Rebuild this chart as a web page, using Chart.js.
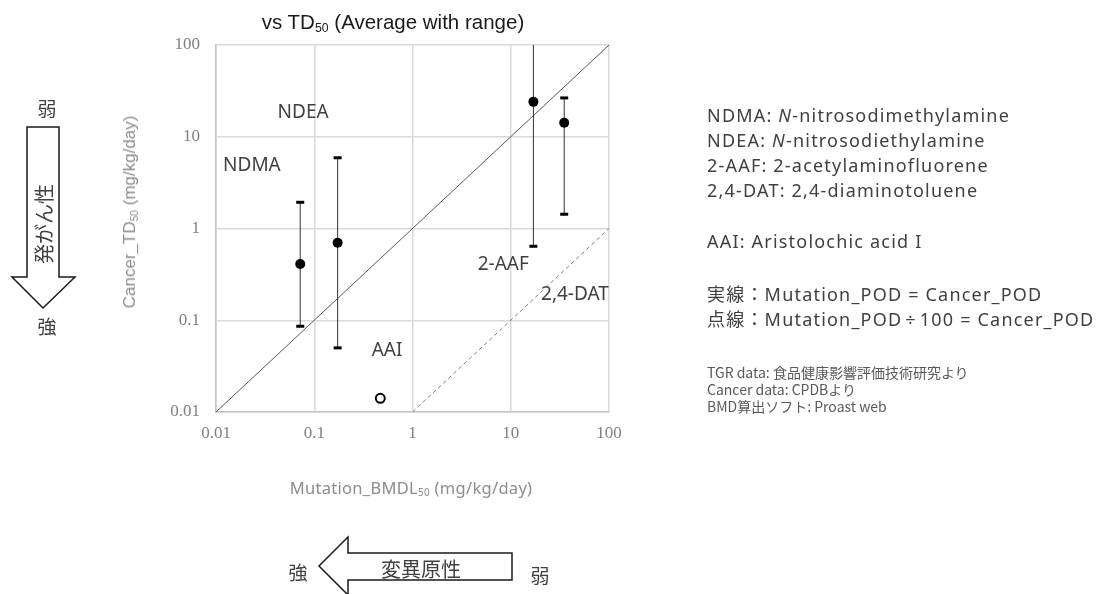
<!DOCTYPE html>
<html>
<head>
<meta charset="utf-8">
<script src="https://cdn.jsdelivr.net/npm/chart.js@4.4.1/dist/chart.umd.min.js"></script>
<style>
  body { margin: 0; background: #fff; }
  #wrap { position: relative; width: 1118px; height: 594px; overflow: hidden; }
  #c { position: absolute; left: 0; top: 0; }
  .t { position: absolute; white-space: nowrap; font-family: "Noto Sans", "Noto Sans CJK JP", sans-serif; }
  sub { font-size: 60%; vertical-align: -0.25em; line-height: 0; }
  #title { left: 393px; top: 22px; transform: translate(-50%, -50%); font-family: "Liberation Sans", Arial, sans-serif; font-size: 20.5px; color: #1a1a1a; }
  #ytitle { left: 130px; top: 212px; transform: translate(-50%, -50%) rotate(-90deg); font-family: "Liberation Sans", Arial, sans-serif; font-size: 17px; color: #8c8c8c; }
  #xtitle { left: 411px; top: 487px; transform: translate(-50%, -50%); font-size: 16.5px; letter-spacing: 0.3px; color: #8c8c8c; }
  .leg { left: 707px; font-size: 18px; letter-spacing: 1.2px; color: #404040; transform: translateY(-50%); }
  .small { left: 707px; font-size: 14px; color: #595959; transform: translateY(-50%); font-family: "Noto Sans CJK JP", sans-serif; }
  .jp { font-size: 19px; color: #404040; transform: translate(-50%, -50%); font-family: "Noto Sans CJK JP", sans-serif; }
</style>
</head>
<body>
<div id="wrap">
  <canvas id="c" width="1118" height="594"></canvas>
  <div class="t" id="title">vs TD<sub>50</sub> (Average with range)</div>
  <div class="t" id="ytitle">Cancer_TD<sub>50</sub> (mg/kg/day)</div>
  <div class="t" id="xtitle">Mutation_BMDL<sub>50</sub> (mg/kg/day)</div>

  <div class="t leg" style="top:115px">NDMA: <i>N</i>-nitrosodimethylamine</div>
  <div class="t leg" style="top:140px">NDEA: <i>N</i>-nitrosodiethylamine</div>
  <div class="t leg" style="top:165px">2-AAF: 2-acetylaminofluorene</div>
  <div class="t leg" style="top:190px">2,4-DAT: 2,4-diaminotoluene</div>
  <div class="t leg" style="top:241px">AAI: Aristolochic acid I</div>
  <div class="t leg" style="top:293px">実線：Mutation_POD = Cancer_POD</div>
  <div class="t leg" style="top:318px">点線：Mutation_POD<span style="margin:0 3px">÷</span>100 = Cancer_POD</div>

  <div class="t small" style="top:372px">TGR data: 食品健康影響評価技術研究より</div>
  <div class="t small" style="top:389px">Cancer data: CPDBより</div>
  <div class="t small" style="top:406px">BMD算出ソフト: Proast web</div>

  <!-- arrows -->
  <svg style="position:absolute;left:0;top:0" width="1118" height="594">
    <polygon points="27,127 59,127 59,277 75,277 43,308 12,277 27,277" fill="#fff" stroke="#1a1a1a" stroke-width="1.5"/>
    <polygon points="512,553 512,580 348,580 348,595 319,566 348,537 348,553" fill="#fff" stroke="#1a1a1a" stroke-width="1.5"/>
  </svg>
  <div class="t jp" style="left:47px;top:107px">弱</div>
  <div class="t jp" style="left:47px;top:325px">強</div>
  <div class="t jp" style="left:43px;top:224px;transform:translate(-50%,-50%) rotate(-90deg);font-size:20px">発がん性</div>
  <div class="t jp" style="left:298px;top:571px">強</div>
  <div class="t jp" style="left:540px;top:574px">弱</div>
  <div class="t jp" style="left:421px;top:568px;font-size:20px">変異原性</div>
</div>

<script>
// compounds (mean with range)
var compounds = ['NDMA', 'NDEA', '2-AAF', '2,4-DAT'];
var mutationBMDL = [0.072, 0.173, 17, 35];
var cancerTD = [0.41, 0.70, 24, 14.2];
var cancerLow = [0.086, 0.050, 0.64, 1.43];
var cancerHigh = [1.93, 5.9, 250, 26.5];

// AAI (open circle)
var aaiBMDL = [0.47];
var aaiTD = [0.0141];

var xTicks = [0.01, 0.1, 1, 10, 100];
var yTicks = [0.01, 0.1, 1, 10, 100];

// reference lines
var unityX = [0.01, 100];
var hundredX = [1, 100];

// where the names sit (data units)
var labelNames = ['NDMA', 'NDEA', '2-AAF', '2,4-DAT', 'AAI'];
var labelX = [0.0232, 0.077, 8.4, 45, 0.55];
var labelY = [4.9, 18.3, 0.40, 0.19, 0.047];

var datasets = [];
datasets.push({
  data: mutationBMDL.map(function(x, i) { return {x: x, y: cancerTD[i]}; }),
  pointRadius: 5, backgroundColor: '#000', borderColor: '#000', borderWidth: 0
});
datasets.push({
  data: aaiBMDL.map(function(x, i) { return {x: x, y: aaiTD[i]}; }),
  pointRadius: 4.5, backgroundColor: '#fff', borderColor: '#000', borderWidth: 2
});
for (var i = 0; i < compounds.length; i++) {
  datasets.push({
    showLine: true,
    data: [{x: mutationBMDL[i], y: cancerLow[i]}, {x: mutationBMDL[i], y: cancerHigh[i]}],
    borderColor: '#333', borderWidth: 1,
    pointStyle: 'line', pointRadius: 4, pointBorderWidth: 3,
    pointBorderColor: '#000', pointBackgroundColor: '#000'
  });
}
datasets.push({
  showLine: true,
  data: unityX.map(function(x) { return {x: x, y: x}; }),
  borderColor: '#595959', borderWidth: 1, pointRadius: 0
});
datasets.push({
  showLine: true,
  data: hundredX.map(function(x) { return {x: x, y: x / 100}; }),
  borderColor: '#808080', borderWidth: 1, borderDash: [4, 3], pointRadius: 0
});

var namePlugin = {
  id: 'names',
  afterDatasetsDraw: function(chart) {
    var ctx = chart.ctx;
    ctx.save();
    ctx.font = '19px "Noto Sans", sans-serif';
    ctx.fillStyle = '#404040';
    ctx.textAlign = 'center';
    ctx.textBaseline = 'middle';
    for (var k = 0; k < labelNames.length; k++) {
      ctx.fillText(labelNames[k], chart.scales.x.getPixelForValue(labelX[k]), chart.scales.y.getPixelForValue(labelY[k]));
    }
    ctx.restore();
  }
};

function fixTicks(list) {
  return function(axis) {
    axis.ticks = list.map(function(v) { return {value: v}; });
  };
}

new Chart(document.getElementById('c'), {
  type: 'scatter',
  data: {datasets: datasets},
  options: {
    responsive: false,
    animation: false,
    layout: {padding: {left: 156, top: 45, right: 509, bottom: 142}},
    plugins: {legend: {display: false}, tooltip: {enabled: false}},
    scales: {
      x: {
        type: 'logarithmic', min: 0.01, max: 100,
        afterBuildTicks: fixTicks(xTicks),
        afterFit: function(axis) { axis.height = 40; },
        grid: {color: '#d9d9d9', lineWidth: 1.5, drawTicks: false},
        border: {color: '#c4c4c4', width: 1.5},
        ticks: {
          padding: 11, color: '#808080',
          font: {family: '"Liberation Serif", serif', size: 17},
          maxRotation: 0,
          callback: function(v) { return String(v); }
        }
      },
      y: {
        type: 'logarithmic', min: 0.01, max: 100,
        afterBuildTicks: fixTicks(yTicks),
        afterFit: function(axis) { axis.width = 60; },
        grid: {color: '#d9d9d9', lineWidth: 1.5, drawTicks: false},
        border: {color: '#c4c4c4', width: 1.5},
        ticks: {
          padding: 16, color: '#808080',
          font: {family: '"Liberation Serif", serif', size: 17},
          callback: function(v) { return String(v); }
        }
      }
    }
  },
  plugins: [namePlugin]
});
</script>
</body>
</html>
